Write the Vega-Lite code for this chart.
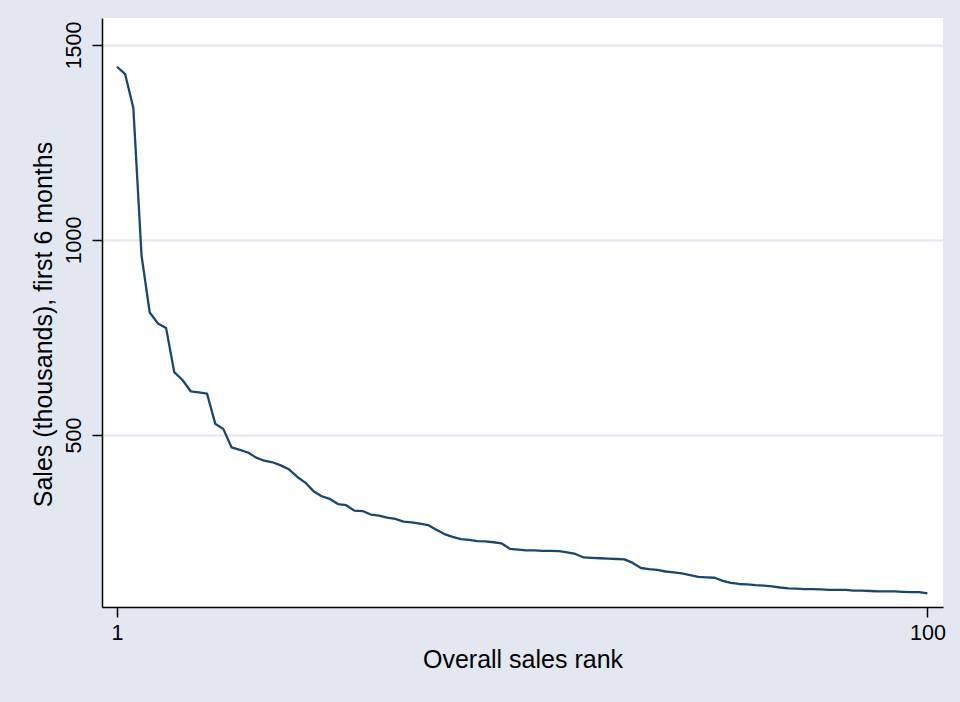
{
  "$schema": "https://vega.github.io/schema/vega-lite/v6.json",
  "autosize": {"type": "none"},
  "width": 841,
  "height": 589,
  "padding": {"left": 102, "top": 18, "right": 17, "bottom": 95},
  "background": "#e2e7f1",
  "config": {
    "view": {"fill": "#ffffff", "stroke": null},
    "font": "Liberation Sans"
  },
  "data": {
    "values": [
      {"rank": 1, "sales": 1444}, {"rank": 2, "sales": 1425}, {"rank": 3, "sales": 1338}, {"rank": 4, "sales": 960},
      {"rank": 5, "sales": 814}, {"rank": 6, "sales": 786}, {"rank": 7, "sales": 774}, {"rank": 8, "sales": 661},
      {"rank": 9, "sales": 641}, {"rank": 10, "sales": 612}, {"rank": 11, "sales": 609}, {"rank": 12, "sales": 606},
      {"rank": 13, "sales": 529}, {"rank": 14, "sales": 515}, {"rank": 15, "sales": 468}, {"rank": 16, "sales": 462},
      {"rank": 17, "sales": 455}, {"rank": 18, "sales": 442}, {"rank": 19, "sales": 434}, {"rank": 20, "sales": 430},
      {"rank": 21, "sales": 422}, {"rank": 22, "sales": 412}, {"rank": 23, "sales": 393}, {"rank": 24, "sales": 378},
      {"rank": 25, "sales": 356}, {"rank": 26, "sales": 343}, {"rank": 27, "sales": 336}, {"rank": 28, "sales": 323},
      {"rank": 29, "sales": 320}, {"rank": 30, "sales": 306}, {"rank": 31, "sales": 305}, {"rank": 32, "sales": 296},
      {"rank": 33, "sales": 293}, {"rank": 34, "sales": 288}, {"rank": 35, "sales": 285}, {"rank": 36, "sales": 278},
      {"rank": 37, "sales": 276}, {"rank": 38, "sales": 273}, {"rank": 39, "sales": 269}, {"rank": 40, "sales": 257},
      {"rank": 41, "sales": 246}, {"rank": 42, "sales": 239}, {"rank": 43, "sales": 233}, {"rank": 44, "sales": 231},
      {"rank": 45, "sales": 228}, {"rank": 46, "sales": 227}, {"rank": 47, "sales": 225}, {"rank": 48, "sales": 222},
      {"rank": 49, "sales": 208}, {"rank": 50, "sales": 206}, {"rank": 51, "sales": 204}, {"rank": 52, "sales": 204},
      {"rank": 53, "sales": 203}, {"rank": 54, "sales": 203}, {"rank": 55, "sales": 202}, {"rank": 56, "sales": 199},
      {"rank": 57, "sales": 195}, {"rank": 58, "sales": 186}, {"rank": 59, "sales": 185}, {"rank": 60, "sales": 184},
      {"rank": 61, "sales": 183}, {"rank": 62, "sales": 182}, {"rank": 63, "sales": 181}, {"rank": 64, "sales": 172},
      {"rank": 65, "sales": 159}, {"rank": 66, "sales": 156}, {"rank": 67, "sales": 154}, {"rank": 68, "sales": 150},
      {"rank": 69, "sales": 148}, {"rank": 70, "sales": 145}, {"rank": 71, "sales": 141}, {"rank": 72, "sales": 136},
      {"rank": 73, "sales": 135}, {"rank": 74, "sales": 134}, {"rank": 75, "sales": 126}, {"rank": 76, "sales": 121},
      {"rank": 77, "sales": 118}, {"rank": 78, "sales": 117}, {"rank": 79, "sales": 115}, {"rank": 80, "sales": 114},
      {"rank": 81, "sales": 112}, {"rank": 82, "sales": 109}, {"rank": 83, "sales": 107}, {"rank": 84, "sales": 106},
      {"rank": 85, "sales": 105}, {"rank": 86, "sales": 105}, {"rank": 87, "sales": 104}, {"rank": 88, "sales": 103},
      {"rank": 89, "sales": 103}, {"rank": 90, "sales": 103}, {"rank": 91, "sales": 101}, {"rank": 92, "sales": 101},
      {"rank": 93, "sales": 100}, {"rank": 94, "sales": 99}, {"rank": 95, "sales": 99}, {"rank": 96, "sales": 99},
      {"rank": 97, "sales": 98}, {"rank": 98, "sales": 97}, {"rank": 99, "sales": 97}, {"rank": 100, "sales": 94}
    ]
  },
  "mark": {"type": "line", "color": "#1a476f", "strokeWidth": 2.3, "strokeJoin": "round"},
  "encoding": {
    "x": {
      "field": "rank",
      "type": "quantitative",
      "scale": {"domain": [-0.83, 101.9], "nice": false, "zero": false},
      "axis": {
        "title": "Overall sales rank",
        "values": [1, 100],
        "format": "d",
        "grid": false,
        "domainColor": "#000000",
        "domainWidth": 1.5,
        "tickColor": "#000000",
        "tickWidth": 1.5,
        "tickSize": 10,
        "labelFontSize": 21.5,
        "labelColor": "#000000",
        "labelPadding": 5,
        "labelFlush": false,
        "titleFontSize": 25,
        "titleFontWeight": "normal",
        "titleColor": "#000000",
        "titlePadding": 4
      }
    },
    "y": {
      "field": "sales",
      "type": "quantitative",
      "scale": {"domain": [59, 1569], "nice": false, "zero": false},
      "axis": {
        "title": "Sales (thousands), first 6 months",
        "values": [500, 1000, 1500],
        "format": "d",
        "grid": true,
        "gridColor": "#e1e6f0",
        "gridWidth": 2,
        "domainColor": "#000000",
        "domainWidth": 1.5,
        "tickColor": "#000000",
        "tickWidth": 1.5,
        "tickSize": 10,
        "labelAngle": 270,
        "labelAlign": "center",
        "labelBaseline": "bottom",
        "labelFontSize": 21.5,
        "labelColor": "#000000",
        "labelPadding": 7,
        "labelFlush": false,
        "titleFontSize": 25,
        "titleFontWeight": "normal",
        "titleColor": "#000000",
        "titlePadding": 7,
        "titleY": 306
      }
    }
  }
}
